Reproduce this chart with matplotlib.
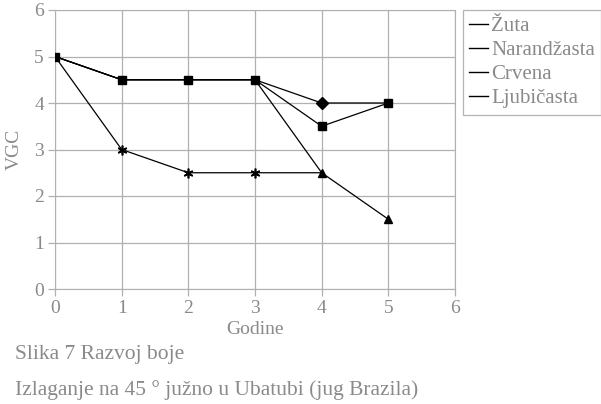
import matplotlib
matplotlib.use("Agg")
import matplotlib.pyplot as plt
from matplotlib.lines import Line2D

years = [0, 1, 2, 3, 4, 5]
zuta = [5, 4.5, 4.5, 4.5, 4, 4]
narandzasta = [5, 4.5, 4.5, 4.5, 3.5, 4]
crvena = [5, 4.5, 4.5, 4.5, 2.5, 1.5]
ljub_years = [0, 1, 2, 3, 4]
ljubicasta = [5, 3, 2.5, 2.5, 2.5]
labels = ["Žuta", "Narandžasta", "Crvena", "Ljubičasta"]
xticks = [0, 1, 2, 3, 4, 5, 6]
yticks = [0, 1, 2, 3, 4, 5, 6]

plt.rcParams['font.family'] = ['Liberation Serif', 'DejaVu Serif']
gray = '#8a8a8a'
fig = plt.figure(figsize=(6.01, 4.04), dpi=100)
ax = fig.add_axes([55/601, 1-289/404, 400/601, 279/404])

lw = 0.9
# markers drawn only where not hidden beneath another series' marker
ax.plot(years, zuta, color='black', lw=lw, marker='D', ms=6, markevery=[4], zorder=3)
ax.plot(ljub_years, ljubicasta, color='black', lw=lw, marker=(6, 2, 0), ms=7, mew=1.2,
        markevery=[1, 2, 3], zorder=3)
ax.plot(years, crvena, color='black', lw=lw, marker='^', ms=6, markevery=[4, 5], zorder=4)
ax.plot(years, narandzasta, color='black', lw=lw, marker='s', ms=6, zorder=5)

ax.set_xlim(0, 6)
ax.set_ylim(0, 6)
ax.set_xticks(xticks)
ax.set_yticks(yticks)
ax.grid(True, color='#b0b0b0', lw=0.9)
ax.set_axisbelow(True)
for s in ax.spines.values():
    s.set_color('#b0b0b0')
ax.tick_params(colors='#b0b0b0', labelcolor=gray, labelsize=14, length=5, width=0.9, pad=3)
ax.set_xlabel("Godine", color=gray, fontsize=14, labelpad=3)
ax.set_ylabel("VGC", color=gray, fontsize=14, labelpad=8)

handles = [Line2D([], [], color='black', lw=1) for _ in labels]
leg = fig.legend(handles, labels, loc='upper left', bbox_to_anchor=(463/601, 1-10/404),
                 frameon=True, fancybox=False, fontsize=15, handlelength=0.9,
                 handletextpad=0.15, labelspacing=0.22, borderpad=0.3, labelcolor=gray,
                 borderaxespad=0)
leg.get_frame().set_edgecolor('#a0a0a0')
leg.get_frame().set_linewidth(0.9)

fig.text(15/601, 1-355/404, "Slika 7 Razvoj boje", color=gray, fontsize=15.5, va='center', ha='left')
fig.text(15/601, 1-390/404, "Izlaganje na 45 ° južno u Ubatubi (jug Brazila)", color=gray,
         fontsize=15.5, va='center', ha='left')

fig.savefig("out.png", dpi=100)
